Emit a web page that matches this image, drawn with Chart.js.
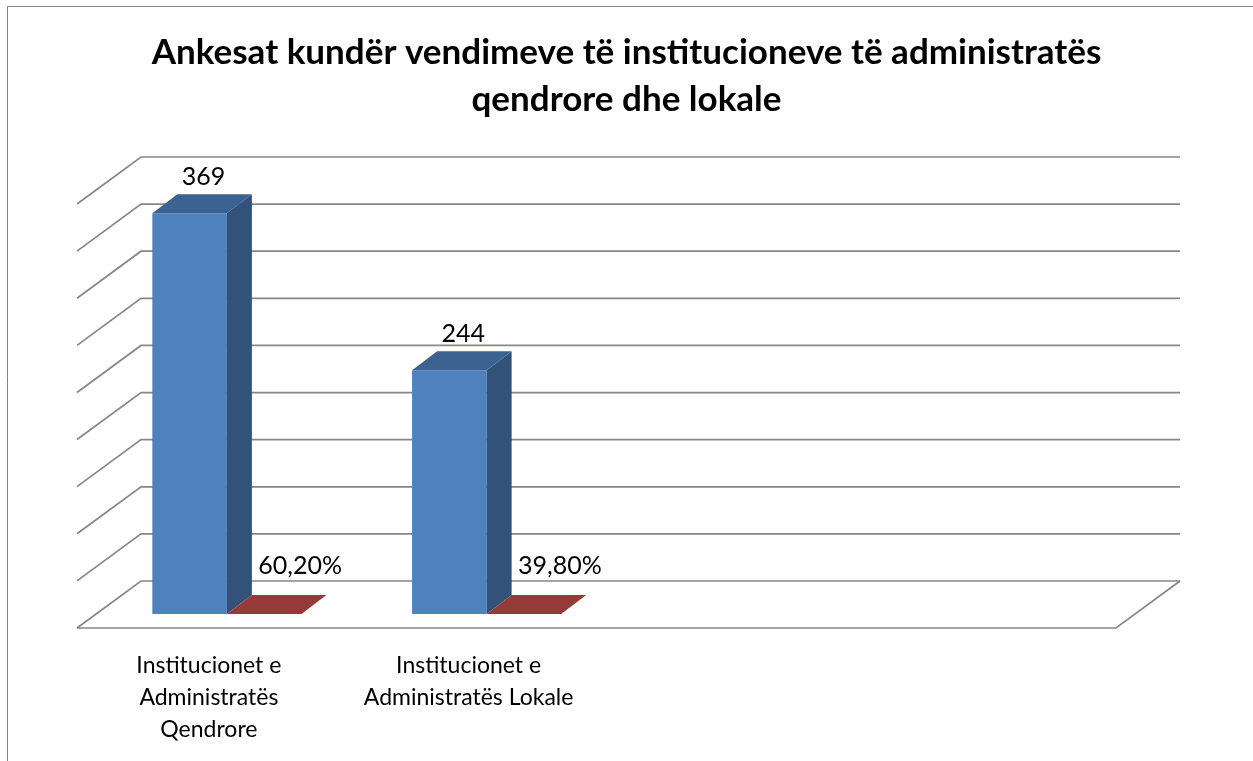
<!DOCTYPE html>
<html>
<head>
<meta charset="utf-8">
<script src="https://cdn.jsdelivr.net/npm/chart.js@4/dist/chart.umd.min.js"></script>
<style>
html,body{margin:0;padding:0;background:#fff;}
#wrap{position:relative;width:1253px;height:761px;}
</style>
</head>
<body>
<div id="wrap"><canvas id="c"></canvas></div>
<script>
// ---- data ----
const titleLines = ["Ankesat kundër vendimeve të institucioneve të administratës", "qendrore dhe lokale"];
const categories = [["Institucionet e", "Administratës", "Qendrore"], ["Institucionet e", "Administratës Lokale"], "", ""];
const seriesCount = [369, 244, null, null];
const seriesShare = [0.602, 0.398, null, null];
const gridValues = [50, 87.5, 125, 162.5, 200, 237.5, 275, 312.5, 350, 387.5];

// ---- styling ----
const GEO = {front: {dx: -20, dy: 14}, back: {dx: 44, dy: -33}, depth: {dx: 25, dy: -19}};
const FACES = [{top: '#3B6291', side: '#32527A'}, {top: '#943A38', side: '#7A2F2D'}];
const fmtShare = v => (v * 100).toFixed(2).replace('.', ',') + '%';

const walls3d = {
  id: 'walls3d',
  beforeDraw(chart) {
    const ctx = chart.ctx;
    ctx.save();
    ctx.fillStyle = '#fff';
    ctx.fillRect(0, 0, chart.width, chart.height);
    ctx.strokeStyle = '#868686';
    ctx.lineWidth = 1;
    ctx.beginPath();
    ctx.moveTo(7.5, chart.height);
    ctx.lineTo(7.5, 6.5);
    ctx.lineTo(chart.width, 6.5);
    ctx.stroke();
    ctx.restore();
  },
  beforeDatasetsDraw(chart) {
    const {ctx, chartArea: a, scales: {y}} = chart;
    ctx.save();
    ctx.strokeStyle = '#878787';
    ctx.lineWidth = 1.7;
    ctx.beginPath();
    gridValues.forEach(v => {
      const py = y.getPixelForValue(v);
      ctx.moveTo(a.right + GEO.back.dx, py + GEO.back.dy);
      ctx.lineTo(a.left + GEO.back.dx, py + GEO.back.dy);
      ctx.lineTo(a.left + GEO.front.dx, py + GEO.front.dy);
    });
    const fy = y.getPixelForValue(gridValues[0]);
    ctx.moveTo(a.left + GEO.front.dx, fy + GEO.front.dy);
    ctx.lineTo(a.right + GEO.front.dx, fy + GEO.front.dy);
    ctx.lineTo(a.right + GEO.back.dx, fy + GEO.back.dy);
    ctx.stroke();
    ctx.restore();
  },
  afterDatasetsDraw(chart) {
    const {ctx, chartArea: a} = chart;
    const d = GEO.depth;
    ctx.save();
    chart.data.datasets.forEach((ds, i) => {
      const meta = chart.getDatasetMeta(i);
      meta.data.forEach((bar, j) => {
        const v = ds.data[j];
        if (v === null || v === undefined) return;
        const p = bar.getProps(['x', 'y', 'base', 'width'], true);
        const l = p.x - p.width / 2, r = p.x + p.width / 2;
        const clampY = t => Math.min(Math.max(t, a.top), a.bottom);
        const top = clampY(Math.min(p.y, p.base));
        const bot = clampY(Math.max(p.y, p.base));
        if (bot - top > 0.5) {
          ctx.fillStyle = FACES[i].side;
          ctx.beginPath();
          ctx.moveTo(r, top); ctx.lineTo(r + d.dx, top + d.dy);
          ctx.lineTo(r + d.dx, bot + d.dy); ctx.lineTo(r, bot);
          ctx.closePath(); ctx.fill();
        }
        ctx.fillStyle = FACES[i].top;
        ctx.beginPath();
        ctx.moveTo(l, top); ctx.lineTo(r, top);
        ctx.lineTo(r + d.dx, top + d.dy); ctx.lineTo(l + d.dx, top + d.dy);
        ctx.closePath(); ctx.fill();
        ctx.fillStyle = '#000';
        ctx.font = '25px Lato';
        ctx.textAlign = 'center';
        ctx.textBaseline = 'alphabetic';
        if (i === 0) ctx.fillText(String(v), p.x + 14, top - 28);
        else ctx.fillText(fmtShare(v), p.x + 36, top - 40);
      });
    });
    ctx.restore();
  }
};

function build() {
  new Chart(document.getElementById('c'), {
    type: 'bar',
    data: {
      labels: categories,
      datasets: [
        {label: 'Numri', data: seriesCount, backgroundColor: '#4F81BD', categoryPercentage: 0.574, barPercentage: 1, clip: 0},
        {label: 'Përqindja', data: seriesShare, backgroundColor: '#C0504D', categoryPercentage: 0.574, barPercentage: 1, clip: 0}
      ]
    },
    options: {
      responsive: true,
      maintainAspectRatio: false,
      animation: false,
      layout: {padding: 0},
      plugins: {
        legend: {display: false},
        tooltip: {enabled: false},
        title: {
          display: true, text: titleLines, color: '#000',
          font: {family: 'Lato', size: 35, weight: 'bold', lineHeight: '47px'},
          padding: {top: 29, bottom: 67}
        }
      },
      scales: {
        x: {
          grid: {display: false, drawTicks: false},
          border: {display: false},
          ticks: {color: '#000', font: {family: 'Lato', size: 23, lineHeight: 1.38}, padding: 36, labelOffset: -18, maxRotation: 0, minRotation: 0, autoSkip: false},
          afterFit(s) { s.height = 147; }
        },
        y: {
          min: gridValues[0], max: gridValues[gridValues.length - 1],
          grid: {display: false, drawTicks: false},
          border: {display: false},
          ticks: {display: false},
          afterFit(s) { s.width = 97; }
        },
        yR: {
          type: 'linear', position: 'right',
          grid: {display: false, drawTicks: false},
          border: {display: false},
          ticks: {display: false},
          afterFit(s) { s.width = 117; }
        }
      }
    },
    plugins: [walls3d]
  });
}
Promise.all([
  document.fonts.load('bold 35px Lato'),
  document.fonts.load('25px Lato'),
  document.fonts.load('23px Lato')
]).then(build, build);
</script>
</body>
</html>
